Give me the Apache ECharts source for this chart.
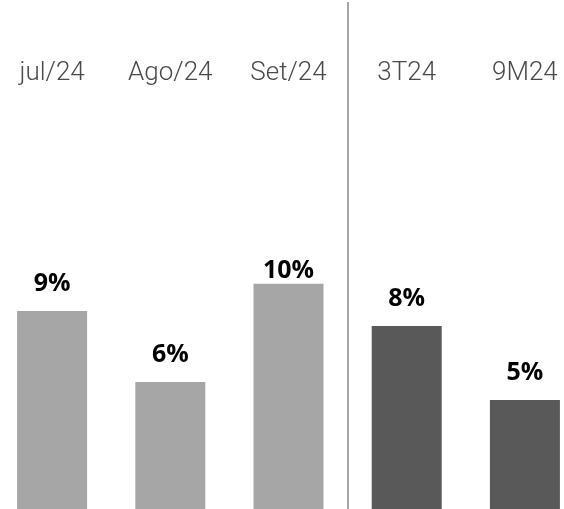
<!DOCTYPE html>
<html>
<head>
<meta charset="utf-8">
<script src="https://cdn.jsdelivr.net/npm/echarts@6/dist/echarts.min.js"></script>
<style>
  html, body { margin: 0; padding: 0; background: #fff; }
  #chart { width: 564px; height: 509px; }
</style>
</head>
<body>
<div id="chart"></div>
<script>
// categorias (3 meses + trimestre + acumulado)
const categories = ["jul/24", "Ago/24", "Set/24", "3T24", "9M24"];
const values = [8.98, 5.76, 10.22, 8.3, 4.95];
// rótulos exibidos sobre as barras
const valueLabels = ["9%", "6%", "10%", "8%", "5%"];
const monthCount = 3;

const chart = echarts.init(document.getElementById("chart"));

const seriesData = values.map(function (v, i) {
  return {
    value: v,
    itemStyle: { color: i < monthCount ? "#a6a6a6" : "#595959" },
    label: { distance: v > 10 ? 0 : 15 },
  };
});

const option = {
  animation: false,
  grid: { left: -7, right: -20, top: 2, bottom: 0, outerBoundsMode: "none" },
  xAxis: {
    type: "category",
    data: categories,
    position: "top",
    offset: -84,
    axisLine: { show: false },
    axisTick: { show: false },
    axisLabel: {
      margin: 0,
      verticalAlign: "bottom",
      fontFamily: "Roboto",
      fontWeight: 300,
      fontSize: 26,
      color: "#4a4a4a",
    },
    // so a linha entre os meses e o trimestre (a 1a fica fora da tela)
    splitLine: {
      show: true,
      interval: function (index) {
        return index === 0 || index === monthCount;
      },
      lineStyle: { color: "#a6a6a6", width: 2 },
    },
  },
  yAxis: {
    type: "value",
    min: 0,
    max: 23,
    show: false,
    splitLine: { show: false },
  },
  series: [
    {
      type: "bar",
      barWidth: 70,
      data: seriesData,
      label: {
        show: true,
        position: "top",
        fontFamily: "Open Sans",
        fontWeight: "bold",
        fontSize: 25,
        color: "#000",
        formatter: function (p) {
          return valueLabels[p.dataIndex];
        },
      },
    },
  ],
};

chart.setOption(option);
</script>
</body>
</html>
